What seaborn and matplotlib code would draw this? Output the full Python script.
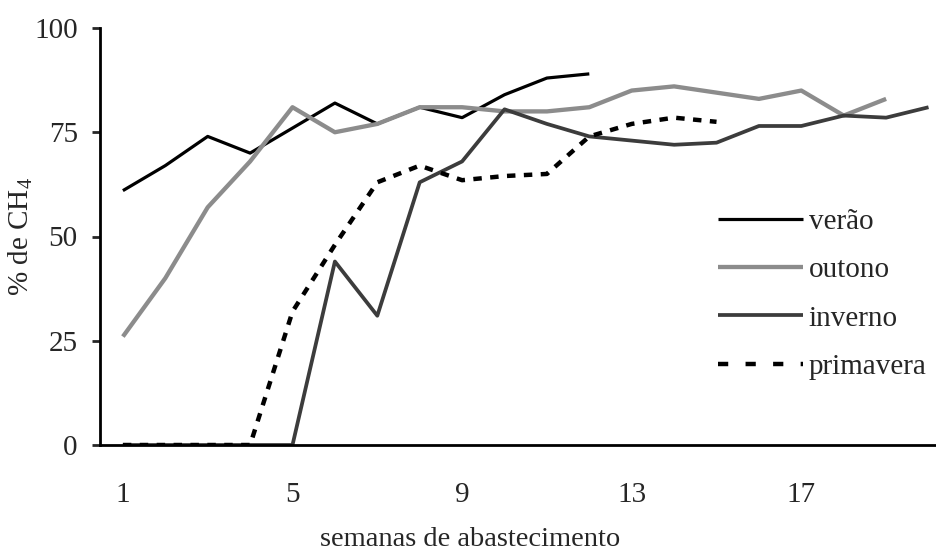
import matplotlib
matplotlib.use("Agg")
import matplotlib.pyplot as plt
import pandas as pd
import seaborn as sns

# weekly methane content (%) per season
VERAO = [61, 67, 74, 70, 76, 82, 77, 81, 78.5, 84, 88, 89]
OUTONO = [26, 40, 57, 68, 81, 75, 77, 81, 81, 80, 80, 81, 85, 86, 84.5, 83, 85, 79, 83]
INVERNO = [0, 0, 0, 0, 0, 44, 31, 63, 68, 80.5, 77, 74, 73, 72, 72.5, 76.5, 76.5, 79, 78.5, 81]
PRIMAVERA = [0, 0, 0, 0, 32, 48, 63, 67, 63.5, 64.5, 65, 74, 77, 78.5, 77.5]

X_TICKS = [1, 5, 9, 13, 17]
Y_TICKS = [0, 25, 50, 75, 100]

STYLES = {
    "verão": dict(color="black", lw=2.3),
    "outono": dict(color="#8c8c8c", lw=3.1),
    "inverno": dict(color="#3c3c3c", lw=2.7),
    "primavera": dict(color="black", lw=3.2, dashes=(1.9, 1.9)),
}


def build_frame() -> pd.DataFrame:
    parts = []
    for name, values in [("verão", VERAO), ("outono", OUTONO),
                         ("inverno", INVERNO), ("primavera", PRIMAVERA)]:
        parts.append(pd.DataFrame({"semana": range(1, len(values) + 1),
                                   "ch4": values, "estacao": name}))
    return pd.concat(parts, ignore_index=True)


def main() -> None:
    sns.set_style("ticks")
    plt.rcParams["font.family"] = ["Liberation Serif", "DejaVu Serif"]
    plt.rcParams["mathtext.default"] = "regular"

    df = build_frame()
    fig = plt.figure(figsize=(9.37, 5.53), dpi=100)
    ax = fig.add_axes([100 / 937, 108 / 553, 837 / 937, 417 / 553])

    for name, style in STYLES.items():
        sub = df[df["estacao"] == name]
        line_kw = {k: v for k, v in style.items() if k != "dashes"}
        sns.lineplot(data=sub, x="semana", y="ch4", ax=ax, label=name,
                     solid_capstyle="butt", **line_kw)
        if "dashes" in style:
            ax.lines[-1].set_dashes(style["dashes"])
            ax.lines[-1].set_dash_capstyle("butt")

    ax.set_xlim(0.46, 20.2)
    ax.set_ylim(0, 100)
    ax.set_xticks(X_TICKS)
    ax.set_yticks(Y_TICKS)
    ax.tick_params(axis="x", length=0, pad=27, labelsize=21)
    ax.tick_params(axis="y", direction="out", length=6, width=2,
                   pad=10, labelsize=21)
    for side in ["top", "right"]:
        ax.spines[side].set_visible(False)
    for side in ["left", "bottom"]:
        ax.spines[side].set_linewidth(2)
        ax.spines[side].set_color("black")

    ax.set_xlabel("semanas de abastecimento", fontsize=20.5)
    ax.xaxis.set_label_coords(0.442, -0.196)
    ax.set_ylabel("% de CH$_4$", fontsize=21)
    ax.yaxis.set_label_coords(-0.078, 0.5)

    leg = ax.legend(loc="upper left", bbox_to_anchor=(0.725, 0.595),
                    frameon=False, fontsize=21, handlelength=2.9,
                    handletextpad=0.2, labelspacing=0.75, borderaxespad=0)
    for handle, style in zip(leg.get_lines(), STYLES.values()):
        if "dashes" in style:
            handle.set_dashes((2.3, 3.9))

    fig.savefig("out.png", dpi=100)
    plt.close(fig)


if __name__ == "__main__":
    main()
